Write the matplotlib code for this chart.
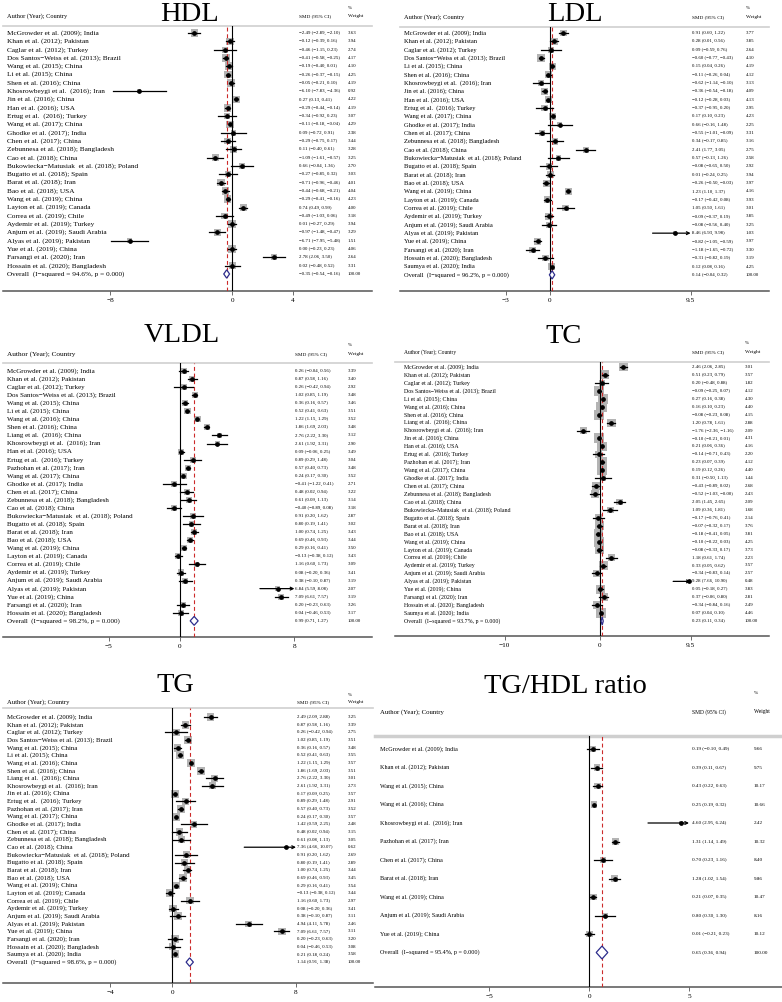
import numpy as np
import matplotlib
matplotlib.use("Agg")
import matplotlib.pyplot as plt
from matplotlib.patches import Polygon
from matplotlib.transforms import blended_transform_factory

plt.rcParams['font.family'] = ['Liberation Serif', 'DejaVu Serif']

W, H = 782, 1002

# ---------------- HDL ----------------
hdl_study = ["McGrowder et al. (2009); India", "Khan et al. (2012); Pakistan", "Caglar et al. (2012); Turkey",
             "Dos Santos−Weiss et al. (2013); Brazil", "Wang et al. (2015); China", "Li et al. (2015); China",
             "Shen et al. (2016); China", "Khosrowbeygi et al.  (2016); Iran", "Jin et al. (2016); China",
             "Han et al. (2016); USA", "Ertug et al.  (2016); Turkey", "Wang et al. (2017); China",
             "Ghodke et al. (2017); India", "Chen et al. (2017); China", "Zebunnesa et al. (2018); Bangladesh",
             "Cao et al. (2018); China", "Bukowiecka−Matusiak  et al. (2018); Poland", "Bugatto et al. (2018); Spain",
             "Barat et al. (2018); Iran", "Bao et al. (2018); USA", "Wang et al. (2019); China",
             "Layton et al. (2019); Canada", "Correa et al. (2019); Chile", "Aydemir et al. (2019); Turkey",
             "Anjum et al. (2019); Saudi Arabia", "Alyas et al. (2019); Pakistan", "Yue et al. (2019); China",
             "Farsangi et al. (2020); Iran", "Hossain et al. (2020); Bangladesh"]
hdl_smd = [-2.49, -0.12, -0.46, -0.41, -0.19, -0.26, -0.05, -6.10, 0.27, -0.29, -0.34, -0.11, 0.09, -0.29, 0.11,
           -1.09, 0.66, -0.27, -0.71, -0.44, -0.29, 0.74, -0.49, 0.01, -0.97, -6.71, 0.00, 2.78, 0.02]
hdl_lo = [-2.89, -0.39, -1.15, -0.58, -0.40, -0.37, -0.21, -7.83, 0.13, -0.44, -0.92, -0.18, -0.72, -0.75, -0.40,
          -1.61, -0.04, -0.85, -0.96, -0.68, -0.41, 0.49, -1.03, -0.27, -1.48, -7.95, -0.23, 2.06, -0.48]
hdl_hi = [-2.10, 0.16, 0.23, -0.25, 0.01, -0.15, 0.10, -4.36, 0.41, -0.14, 0.23, -0.04, 0.91, 0.17, 0.61,
          -0.57, 1.36, 0.32, -0.46, -0.21, -0.16, 0.99, 0.06, 0.29, -0.47, -5.48, 0.23, 3.50, 0.52]
hdl_wt = [3.63, 3.94, 2.74, 4.17, 4.10, 4.25, 4.19, 0.92, 4.22, 4.19, 3.07, 4.29, 2.38, 3.44, 3.28,
          3.25, 2.70, 3.03, 4.01, 4.04, 4.23, 4.00, 3.18, 3.94, 3.29, 1.51, 4.06, 2.64, 3.31]
hdl_overall = [-0.35, -0.54, -0.16]
hdl_i2 = 94.6
hdl_ticks = [-8, 0, 4]

# ---------------- LDL ----------------
ldl_study = ["McGrowder et al. (2009); India", "Khan et al. (2012); Pakistan", "Caglar et al. (2012); Turkey",
             "Dos Santos−Weiss et al. (2013); Brazil", "Li et al. (2015); China", "Shen et al. (2016); China",
             "Khosrowbeygi et al.  (2016); Iran", "Jin et al. (2016); China", "Han et al. (2016); USA",
             "Ertug et al.  (2016); Turkey", "Wang et al. (2017); China", "Ghodke et al. (2017); India",
             "Chen et al. (2017); China", "Zebunnesa et al. (2018); Bangladesh", "Cao et al. (2018); China",
             "Bukowiecka−Matusiak  et al. (2018); Poland", "Bugatto et al. (2018); Spain", "Barat et al. (2018); Iran",
             "Bao et al. (2018); USA", "Wang et al. (2019); China", "Layton et al. (2019); Canada",
             "Correa et al. (2019); Chile", "Aydemir et al. (2019); Turkey", "Anjum et al. (2019); Saudi Arabia",
             "Alyas et al. (2019); Pakistan", "Yue et al. (2019); China", "Farsangi et al. (2020); Iran",
             "Hossain et al. (2020); Bangladesh", "Saumya et al. (2020); India"]
ldl_smd = [0.91, 0.28, 0.09, -0.60, 0.15, -0.11, -0.62, -0.36, -0.12, -0.37, 0.17, 0.66, -0.55, 0.34, 2.41,
           0.57, -0.08, 0.01, -0.26, 1.23, -0.17, 1.05, -0.09, -0.08, 8.46, -0.82, -1.18, -0.31, 0.12]
ldl_lo = [0.60, 0.01, -0.59, -0.77, 0.04, -0.26, -1.14, -0.54, -0.28, -0.95, 0.10, -0.16, -1.01, -0.17, 1.77,
          -0.13, -0.65, -0.24, -0.50, 1.10, -0.42, 0.50, -0.37, -0.56, 6.93, -1.05, -1.65, -0.82, 0.08]
ldl_hi = [1.22, 0.56, 0.76, -0.43, 0.26, 0.04, -0.10, -0.18, 0.03, 0.20, 0.23, 1.48, -0.09, 0.85, 3.05,
          1.26, 0.50, 0.25, -0.03, 1.37, 0.08, 1.61, 0.19, 0.40, 9.98, -0.59, -0.72, 0.19, 0.16]
ldl_wt = [3.77, 3.85, 2.64, 4.10, 4.19, 4.12, 3.13, 4.09, 4.13, 2.95, 4.23, 2.25, 3.31, 3.16, 2.75,
          2.58, 2.92, 3.94, 3.97, 4.16, 3.93, 3.01, 3.85, 3.25, 1.03, 3.97, 3.30, 3.19, 4.25]
ldl_overall = [0.14, -0.04, 0.32]
ldl_i2 = 96.2
ldl_ticks = [-3, 0, 9.5]

# ---------------- VLDL ----------------
vldl_study = ["McGrowder et al. (2009); India", "Khan et al. (2012); Pakistan", "Caglar et al. (2012); Turkey",
              "Dos Santos−Weiss et al. (2013); Brazil", "Wang et al. (2015); China", "Li et al. (2015); China",
              "Wang et al. (2016); China", "Shen et al. (2016); China", "Liang et al.  (2016); China",
              "Khosrowbeygi et al.  (2016); Iran", "Han et al. (2016); USA", "Ertug et al.  (2016); Turkey",
              "Pazhohan et al. (2017); Iran", "Wang et al. (2017); China", "Ghodke et al. (2017); India",
              "Chen et al. (2017); China", "Zebunnesa et al. (2018); Bangladesh", "Cao et al. (2018); China",
              "Bukowiecka−Matusiak  et al. (2018); Poland", "Bugatto et al. (2018); Spain", "Barat et al. (2018); Iran",
              "Bao et al. (2018); USA", "Wang et al. (2019); China", "Layton et al. (2019); Canada",
              "Correa et al. (2019); Chile", "Aydemir et al. (2019); Turkey", "Anjum et al. (2019); Saudi Arabia",
              "Alyas et al. (2019); Pakistan", "Yue et al. (2019); China", "Farsangi et al. (2020); Iran",
              "Hossain et al. (2020); Bangladesh"]
vldl_smd = [0.26, 0.87, 0.26, 1.02, 0.36, 0.52, 1.22, 1.86, 2.76, 2.61, 0.09, 0.89, 0.57, 0.24, -0.41, 0.48,
            0.61, -0.40, 0.91, 0.80, 1.00, 0.69, 0.29, -0.13, 1.16, 0.08, 0.38, 6.84, 7.09, 0.20, 0.04]
vldl_lo = [-0.04, 0.58, -0.42, 0.85, 0.16, 0.41, 1.15, 1.69, 2.22, 1.92, -0.06, 0.29, 0.40, 0.17, -1.22, 0.02,
           0.09, -0.89, 0.20, 0.19, 0.74, 0.46, 0.16, -0.38, 0.60, -0.20, -0.10, 5.59, 6.61, -0.23, -0.46]
vldl_hi = [0.56, 1.16, 0.94, 1.19, 0.57, 0.63, 1.29, 2.03, 3.30, 3.31, 0.25, 1.48, 0.73, 0.30, 0.41, 0.94,
           1.13, 0.08, 1.62, 1.41, 1.25, 0.93, 0.41, 0.12, 1.73, 0.36, 0.87, 8.08, 7.57, 0.63, 0.53]
vldl_wt = [3.39, 3.40, 2.92, 3.48, 3.46, 3.51, 3.52, 3.48, 3.12, 2.90, 3.49, 3.04, 3.48, 3.52, 2.71, 3.22,
           3.14, 3.18, 2.87, 3.02, 3.43, 3.44, 3.50, 3.43, 3.09, 3.41, 3.19, 2.07, 3.19, 3.26, 3.17]
vldl_overall = [0.99, 0.71, 1.27]
vldl_i2 = 98.2
vldl_ticks = [-5, 0, 8]

# ---------------- TC ----------------
tc_study = ["McGrowder et al. (2009); India", "Khan et al. (2012); Pakistan", "Caglar et al. (2012); Turkey",
            "Dos Santos−Weiss et al. (2013); Brazil", "Li et al. (2015); China", "Wang et al. (2016); China",
            "Shen et al. (2016); China", "Liang et al.  (2016); China", "Khosrowbeygi et al.  (2016); Iran",
            "Jin et al. (2016); China", "Han et al. (2016); USA", "Ertug et al.  (2016); Turkey",
            "Pazhohan et al. (2017); Iran", "Wang et al. (2017); China", "Ghodke et al. (2017); India",
            "Chen et al. (2017); China", "Zebunnesa et al. (2018); Bangladesh", "Cao et al. (2018); China",
            "Bukowiecka−Matusiak  et al. (2018); Poland", "Bugatto et al. (2018); Spain", "Barat et al. (2018); Iran",
            "Bao et al. (2018); USA", "Wang et al. (2019); China", "Layton et al. (2019); Canada",
            "Correa et al. (2019); Chile", "Aydemir et al. (2019); Turkey", "Anjum et al. (2019); Saudi Arabia",
            "Alyas et al. (2019); Pakistan", "Yue et al. (2019); China", "Farsangi et al. (2020); Iran",
            "Hossain et al. (2020); Bangladesh", "Saumya et al. (2020); India"]
tc_smd = [2.46, 0.51, 0.20, -0.09, 0.27, 0.16, -0.08, 1.20, -1.76, -0.10, 0.21, -0.14, 0.23, 0.19, 0.31, -0.43,
          -0.52, 2.05, 1.09, -0.17, -0.07, -0.18, -0.10, -0.08, 1.18, 0.33, -0.34, 9.28, 0.05, 0.37, -0.34, 0.07]
tc_lo = [2.06, 0.23, -0.48, -0.25, 0.16, 0.10, -0.23, 0.78, -2.36, -0.21, 0.06, -0.71, 0.07, 0.12, -0.50, -0.89,
         -1.03, 1.45, 0.36, -0.76, -0.32, -0.41, -0.22, -0.33, 0.61, 0.05, -0.83, 7.66, -0.18, -0.06, -0.84, 0.04]
tc_hi = [2.85, 0.79, 0.88, 0.07, 0.38, 0.23, 0.08, 1.61, -1.16, 0.01, 0.36, 0.43, 0.39, 0.26, 1.13, 0.02,
         -0.00, 2.65, 1.81, 0.41, 0.17, 0.05, 0.03, 0.17, 1.74, 0.62, 0.14, 10.90, 0.27, 0.80, 0.16, 0.10]
tc_wt = [3.01, 3.57, 1.82, 4.12, 4.30, 4.40, 4.15, 2.88, 2.09, 4.31, 4.16, 2.20, 4.12, 4.40, 1.44, 2.68,
         2.43, 2.09, 1.68, 2.14, 3.76, 3.81, 4.25, 3.73, 2.23, 3.57, 2.57, 0.48, 3.83, 2.81, 2.49, 4.46]
tc_overall = [0.23, 0.11, 0.34]
tc_i2 = 93.7
tc_ticks = [-10, 0, 9.5]

# ---------------- TG ----------------
tg_study = ["McGrowder et al. (2009); India", "Khan et al. (2012); Pakistan", "Caglar et al. (2012); Turkey",
            "Dos Santos−Weiss et al. (2013); Brazil", "Wang et al. (2015); China", "Li et al. (2015); China",
            "Wang et al. (2016); China", "Shen et al. (2016); China", "Liang et al.  (2016); China",
            "Khosrowbeygi et al.  (2016); Iran", "Jin et al. (2016); China", "Ertug et al.  (2016); Turkey",
            "Pazhohan et al. (2017); Iran", "Wang et al. (2017); China", "Ghodke et al. (2017); India",
            "Chen et al. (2017); China", "Zebunnesa et al. (2018); Bangladesh", "Cao et al. (2018); China",
            "Bukowiecka−Matusiak  et al. (2018); Poland", "Bugatto et al. (2018); Spain", "Barat et al. (2018); Iran",
            "Bao et al. (2018); USA", "Wang et al. (2019); China", "Layton et al. (2019); Canada",
            "Correa et al. (2019); Chile", "Aydemir et al. (2019); Turkey", "Anjum et al. (2019); Saudi Arabia",
            "Alyas et al. (2019); Pakistan", "Yue et al. (2019); China", "Farsangi et al. (2020); Iran",
            "Hossain et al. (2020); Bangladesh", "Saumya et al. (2020); India"]
tg_smd = [2.49, 0.87, 0.26, 1.02, 0.36, 0.52, 1.22, 1.86, 2.76, 2.61, 0.17, 0.89, 0.57, 0.24, 1.42, 0.48,
          0.61, 7.36, 0.91, 0.80, 1.00, 0.69, 0.29, -0.13, 1.16, 0.08, 0.38, 4.94, 7.09, 0.20, 0.04, 0.21]
tg_lo = [2.09, 0.58, -0.42, 0.85, 0.16, 0.41, 1.15, 1.69, 2.22, 1.92, 0.09, 0.29, 0.40, 0.17, 0.59, 0.02,
         0.08, 4.66, 0.20, 0.19, 0.74, 0.46, 0.16, -0.38, 0.60, -0.20, -0.10, 4.11, 6.61, -0.23, -0.46, 0.18]
tg_hi = [2.88, 1.16, 0.94, 1.19, 0.57, 0.63, 1.29, 2.03, 3.30, 3.31, 0.25, 1.48, 0.73, 0.30, 2.25, 0.94,
         1.13, 10.07, 1.62, 1.41, 1.25, 0.93, 0.41, 0.12, 1.73, 0.36, 0.87, 5.78, 7.57, 0.63, 0.53, 0.24]
tg_wt = [3.25, 3.39, 2.75, 3.51, 3.48, 3.55, 3.57, 3.51, 3.01, 2.73, 3.57, 2.91, 3.52, 3.57, 2.48, 3.15,
         3.05, 0.62, 2.69, 2.89, 3.44, 3.45, 3.54, 3.44, 2.97, 3.41, 3.11, 2.46, 3.11, 3.20, 3.08, 3.58]
tg_overall = [1.14, 0.91, 1.38]
tg_i2 = 98.6
tg_ticks = [-4, 0, 8]

# ---------------- TG/HDL ratio ----------------
ratio_study = ["McGrowder et al. (2009); India", "Khan et al. (2012); Pakistan", "Wang et al. (2015); China",
               "Wang et al. (2016); China", "Khosrowbeygi et al.  (2016); Iran", "Pazhohan et al. (2017); Iran",
               "Chen et al. (2017); China", "Barat et al. (2018); Iran", "Wang et al. (2019); China",
               "Anjum et al. (2019); Saudi Arabia", "Yue et al. (2019); China"]
ratio_smd = [0.19, 0.39, 0.43, 0.25, 4.60, 1.31, 0.70, 1.28, 0.21, 0.80, 0.01]
ratio_lo = [-0.10, 0.11, 0.22, 0.19, 2.95, 1.14, 0.23, 1.02, 0.07, 0.30, -0.21]
ratio_hi = [0.49, 0.67, 0.63, 0.32, 6.24, 1.49, 1.16, 1.54, 0.35, 1.30, 0.23]
ratio_wt = [9.66, 9.75, 10.17, 10.66, 2.42, 10.32, 8.40, 9.86, 10.47, 8.16, 10.12]
ratio_overall = [0.65, 0.36, 0.94]
ratio_i2 = 95.4
ratio_ticks = [-5, 0, 5]


def fmt(v):
    return f"{v:.2f}".replace("-", "\u2212")


fig = plt.figure(figsize=(W / 100, H / 100), dpi=100)
fig.patch.set_facecolor("white")


def panel(title, study, smd, lo, hi, wt, overall, i2, ticks, L):
    ax = fig.add_axes([L["l"] / W, 1 - L["axis"] / H, (L["r"] - L["l"]) / W, (L["axis"] - L["sep"]) / H])
    ax.set_xlim((L["l"] - L["zero"]) / L["sc"], (L["r"] - L["zero"]) / L["sc"])
    ax.set_ylim((L["axis"] - L["first"]) / L["dy"], (L["sep"] - L["first"]) / L["dy"])
    tr = blended_transform_factory(fig.transFigure, ax.transData)
    tmin, tmax = min(ticks), max(ticks)
    n = len(study)
    rows = np.arange(n)

    ax.axvline(0, color="black", lw=0.8, zorder=3)
    ax.axvline(overall[0], color="#cc2a2a", lw=0.8, ls=(0, (3.5, 2.5)), zorder=3)

    side = L["k"] * np.sqrt(np.array(wt)) * 0.72
    ax.scatter(smd, rows, marker="s", s=side ** 2, color="#b4b4b4", lw=0, zorder=2)
    for i in range(n):
        a, b = max(lo[i], tmin), min(hi[i], tmax)
        if hi[i] > tmax:
            ax.annotate("", xy=(tmax, i), xytext=(a, i),
                        arrowprops=dict(arrowstyle="->", lw=0.9, color="black",
                                        shrinkA=0, shrinkB=0, mutation_scale=5), zorder=4)
        else:
            ax.plot([a, b], [i, i], color="black", lw=0.9, zorder=4)
    ax.plot(smd, rows, "o", ms=2.4, color="black", mec="black", zorder=5)

    est, olo, ohi = overall
    h = L["dh"]
    ax.add_patch(Polygon([(olo, n), (est, n - h), (ohi, n), (est, n + h)], closed=True,
                         facecolor="white", edgecolor="#2c2c8c", lw=0.9, zorder=5))

    for i in range(n):
        ax.text(L["lab"] / W, i, study[i], transform=tr, fontsize=L["fs"], va="center", ha="left")
        ax.text(L["smd"] / W, i, f"{fmt(smd[i])} ({fmt(lo[i])}, {fmt(hi[i])})", transform=tr,
                fontsize=L["nfs"], va="center", ha="left")
        ax.text(L["wt"] / W, i, f"{wt[i]:.2f}", transform=tr, fontsize=L["nfs"], va="center", ha="left")
    ax.text(L["lab"] / W, n, f"Overall  (I\u2212squared = {i2:.1f}%, p = 0.000)", transform=tr,
            fontsize=L["fs"], va="center", ha="left")
    ax.text(L["smd"] / W, n, f"{fmt(est)} ({fmt(olo)}, {fmt(ohi)})", transform=tr,
            fontsize=L["nfs"], va="center", ha="left")
    ax.text(L["wt"] / W, n, "100.00", transform=tr, fontsize=L["nfs"], va="center", ha="left")

    fig.text(L["tx"] / W, 1 - L["ty"] / H, title, fontsize=20.5, ha="center", va="baseline")
    fig.text(L["lab"] / W, 1 - L["head"] / H, "Author (Year); Country", fontsize=L["hfs"], va="center")
    fig.text(L["smd"] / W, 1 - L["head"] / H, "SMD (95% CI)", fontsize=L["nfs"] + 0.3, va="center")
    fig.text(L["wt"] / W, 1 - L["head"] / H, "Weight", fontsize=L["nfs"] + 0.3, va="center")
    fig.text(L["wt"] / W, 1 - L["pct"] / H, "%", fontsize=L["nfs"], va="center")

    for s in ["left", "right"]:
        ax.spines[s].set_visible(False)
    ax.spines["top"].set_color("#cfcfcf")
    ax.spines["top"].set_linewidth(L["slw"])
    ax.spines["bottom"].set_color("#555555")
    ax.spines["bottom"].set_linewidth(1.1)
    ax.set_yticks([])
    ax.set_xticks(ticks)
    ax.set_xticklabels([fmt(t).rstrip("0").rstrip(".") if t != 0 else "0" for t in ticks])
    ax.tick_params(axis="x", length=3, width=0.6, color="#555555", labelsize=5.2, pad=2)
    ax.patch.set_alpha(0)


panel("HDL", hdl_study, hdl_smd, hdl_lo, hdl_hi, hdl_wt, hdl_overall, hdl_i2, hdl_ticks,
      dict(l=3, r=372, zero=232, sc=15.25, first=33, dy=8.31, sep=26, axis=291, tx=190, ty=21,
           head=16, pct=8, lab=7, smd=299, wt=348, fs=5.2, nfs=3.5, hfs=4.6, k=3.7, dh=0.5, slw=1.2))
panel("LDL", ldl_study, ldl_smd, ldl_lo, ldl_hi, ldl_wt, ldl_overall, ldl_i2, ldl_ticks,
      dict(l=400, r=769, zero=550, sc=14.8, first=33, dy=8.34, sep=27, axis=291, tx=575, ty=21,
           head=17, pct=8, lab=404, smd=692, wt=746, fs=4.7, nfs=3.5, hfs=4.6, k=3.6, dh=0.5, slw=1.2))
panel("VLDL", vldl_study, vldl_smd, vldl_lo, vldl_hi, vldl_wt, vldl_overall, vldl_i2, vldl_ticks,
      dict(l=3, r=372, zero=180, sc=14.3, first=371, dy=8.06, sep=363, axis=637, tx=182, ty=342,
           head=354, pct=345, lab=7, smd=295, wt=348, fs=5.0, nfs=3.5, hfs=5.2, k=3.3, dh=0.55, slw=1.2))
panel("TC", tc_study, tc_smd, tc_lo, tc_hi, tc_wt, tc_overall, tc_i2, tc_ticks,
      dict(l=395, r=769, zero=600, sc=9.55, first=367, dy=7.94, sep=362, axis=636, tx=564, ty=343,
           head=352, pct=343, lab=404, smd=692, wt=745, fs=4.2, nfs=3.5, hfs=4.0, k=4.8, dh=0.5, slw=1.2))
panel("TG", tg_study, tg_smd, tg_lo, tg_hi, tg_wt, tg_overall, tg_i2, tg_ticks,
      dict(l=3, r=373, zero=172, sc=15.5, first=717, dy=7.66, sep=708, axis=983, tx=175, ty=692,
           head=702, pct=695, lab=7, smd=297, wt=348, fs=4.9, nfs=3.5, hfs=4.8, k=4.2, dh=0.55, slw=1.2))
panel("TG/HDL ratio", ratio_study, ratio_smd, ratio_lo, ratio_hi, ratio_wt, ratio_overall, ratio_i2, ratio_ticks,
      dict(l=375, r=782, zero=589, sc=20, first=749, dy=18.5, sep=736, axis=987, tx=565, ty=693,
           head=712, pct=693, lab=380, smd=692, wt=754, fs=4.4, nfs=3.7, hfs=4.9, k=2.1, dh=0.35, slw=2.5))

fig.savefig("out.png", dpi=100, facecolor="white")
